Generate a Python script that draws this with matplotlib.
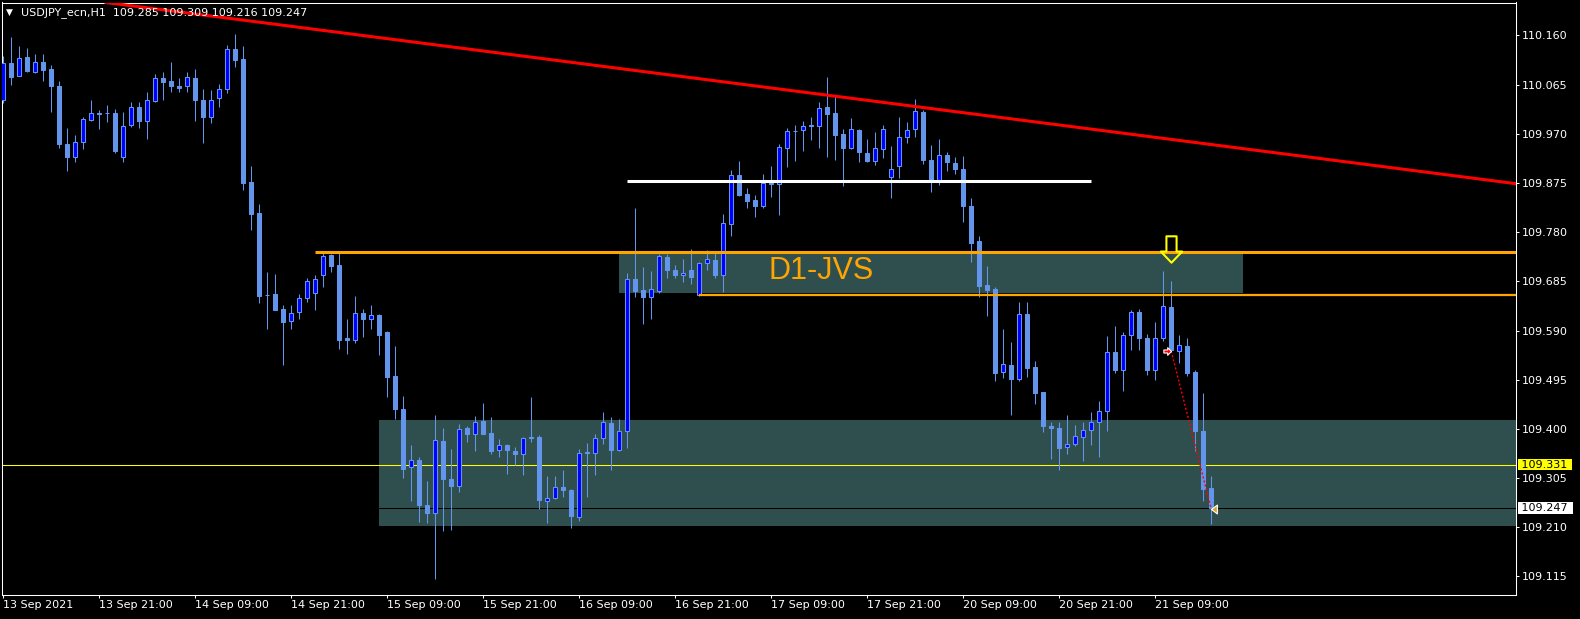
import numpy as np
import matplotlib
matplotlib.use("Agg")
import matplotlib.pyplot as plt
from matplotlib.path import Path
from matplotlib.patches import Rectangle
from matplotlib.transforms import blended_transform_factory

# ---------------- data (USDJPY_ecn, H1) ----------------
opens = [110.035, 110.107, 110.081, 110.118, 110.090, 110.109, 110.096, 110.062, 109.951, 109.926,
         109.954, 109.997, 110.010, 110.011, 110.011, 109.926, 109.988, 110.022, 109.994, 110.033,
         110.077, 110.072, 110.062, 110.062, 110.077, 110.036, 110.003, 110.039, 110.056, 110.134,
         110.115, 109.877, 109.817, 109.659, 109.661, 109.631, 109.608, 109.625, 109.652, 109.663,
         109.698, 109.735, 109.717, 109.576, 109.571, 109.624, 109.613, 109.620, 109.587, 109.502,
         109.438, 109.327, 109.340, 109.253, 109.237, 109.377, 109.303, 109.289, 109.401, 109.391,
         109.416, 109.392, 109.359, 109.369, 109.357, 109.351, 109.385, 109.385, 109.261, 109.266,
         109.287, 109.282, 109.229, 109.355, 109.353, 109.382, 109.411, 109.360, 109.395, 109.689,
         109.668, 109.654, 109.667, 109.732, 109.706, 109.697, 109.707, 109.658, 109.720, 109.727,
         109.698, 109.795, 109.890, 109.854, 109.842, 109.830, 109.875, 109.874, 109.943, 109.976,
         109.977, 109.987, 109.986, 110.021, 110.011, 109.970, 109.942, 109.977, 109.933, 109.918,
         109.940, 109.886, 109.907, 109.963, 109.979, 110.013, 109.920, 109.881, 109.929, 109.914,
         109.903, 109.831, 109.763, 109.678, 109.670, 109.510, 109.523, 109.496, 109.621, 109.519,
         109.471, 109.406, 109.401, 109.365, 109.371, 109.384, 109.397, 109.413, 109.434, 109.549,
         109.513, 109.582, 109.626, 109.576, 109.514, 109.575, 109.636, 109.551, 109.560, 109.510,
         109.395, 109.285]
highs = [110.121, 110.158, 110.140, 110.136, 110.125, 110.124, 110.103, 110.072, 109.981, 109.968,
         110.003, 110.035, 110.016, 110.026, 110.018, 110.012, 110.031, 110.031, 110.051, 110.086,
         110.090, 110.109, 110.077, 110.090, 110.096, 110.056, 110.054, 110.066, 110.141, 110.163,
         110.140, 109.907, 109.835, 109.704, 109.699, 109.640, 109.640, 109.660, 109.691, 109.697,
         109.739, 109.738, 109.739, 109.612, 109.657, 109.631, 109.640, 109.622, 109.589, 109.560,
         109.464, 109.368, 109.345, 109.300, 109.427, 109.401, 109.362, 109.410, 109.405, 109.425,
         109.450, 109.423, 109.380, 109.371, 109.365, 109.384, 109.462, 109.388, 109.309, 109.309,
         109.321, 109.283, 109.362, 109.373, 109.391, 109.433, 109.423, 109.419, 109.702, 109.826,
         109.713, 109.705, 109.737, 109.737, 109.716, 109.728, 109.748, 109.722, 109.746, 109.739,
         109.815, 109.900, 109.917, 109.865, 109.852, 109.892, 109.908, 109.951, 109.981, 109.988,
         109.994, 110.002, 110.031, 110.079, 110.046, 109.980, 110.001, 109.979, 109.960, 109.974,
         109.987, 109.946, 110.002, 109.992, 110.037, 110.017, 109.948, 109.960, 109.935, 109.926,
         109.927, 109.847, 109.773, 109.715, 109.674, 109.592, 109.567, 109.645, 109.645, 109.532,
         109.472, 109.414, 109.414, 109.427, 109.408, 109.414, 109.433, 109.454, 109.580, 109.599,
         109.587, 109.630, 109.631, 109.584, 109.606, 109.705, 109.685, 109.582, 109.576, 109.514,
         109.470, 109.309]
lows = [110.029, 110.065, 110.081, 110.090, 110.088, 110.072, 110.013, 109.943, 109.898, 109.915,
        109.940, 109.994, 109.980, 109.992, 109.933, 109.915, 109.983, 109.981, 109.961, 110.031,
        110.036, 110.050, 110.050, 110.051, 109.994, 109.953, 109.991, 110.021, 110.048, 110.099,
        109.861, 109.785, 109.643, 109.593, 109.629, 109.524, 109.592, 109.612, 109.646, 109.629,
        109.674, 109.703, 109.555, 109.544, 109.565, 109.577, 109.592, 109.543, 109.462, 109.419,
        109.305, 109.261, 109.221, 109.218, 109.109, 109.203, 109.205, 109.279, 109.375, 109.358,
        109.390, 109.351, 109.345, 109.312, 109.331, 109.310, 109.375, 109.246, 109.219, 109.264,
        109.269, 109.209, 109.222, 109.269, 109.310, 109.371, 109.321, 109.358, 109.364, 109.654,
        109.603, 109.612, 109.662, 109.692, 109.691, 109.684, 109.680, 109.656, 109.707, 109.691,
        109.665, 109.772, 109.850, 109.826, 109.810, 109.827, 109.848, 109.813, 109.905, 109.918,
        109.937, 109.959, 109.943, 109.926, 109.920, 109.869, 109.940, 109.916, 109.916, 109.909,
        109.923, 109.847, 109.884, 109.953, 109.964, 109.912, 109.857, 109.872, 109.898, 109.892,
        109.800, 109.722, 109.654, 109.619, 109.492, 109.499, 109.427, 109.492, 109.501, 109.448,
        109.394, 109.342, 109.320, 109.351, 109.366, 109.337, 109.368, 109.345, 109.395, 109.508,
        109.473, 109.552, 109.552, 109.504, 109.495, 109.569, 109.551, 109.528, 109.503, 109.358,
        109.261, 109.216]
closes = [110.107, 110.079, 110.116, 110.091, 110.108, 110.093, 110.062, 109.951, 109.926, 109.954,
          109.998, 110.010, 110.009, 110.010, 109.937, 109.986, 110.021, 109.994, 110.035, 110.077,
          110.071, 110.062, 110.059, 110.080, 110.036, 110.002, 110.036, 110.056, 110.134, 110.113,
          109.875, 109.816, 109.657, 109.658, 109.630, 109.606, 109.623, 109.652, 109.685, 109.689,
          109.734, 109.714, 109.571, 109.571, 109.624, 109.613, 109.620, 109.582, 109.501, 109.438,
          109.323, 109.340, 109.252, 109.237, 109.379, 109.303, 109.289, 109.400, 109.391, 109.413,
          109.391, 109.357, 109.369, 109.360, 109.351, 109.382, 109.382, 109.262, 109.266, 109.287,
          109.281, 109.232, 109.353, 109.354, 109.382, 109.413, 109.360, 109.395, 109.689, 109.667,
          109.654, 109.670, 109.734, 109.707, 109.697, 109.702, 109.694, 109.720, 109.728, 109.697,
          109.797, 109.890, 109.852, 109.841, 109.830, 109.875, 109.873, 109.944, 109.975, 109.975,
          109.986, 109.986, 110.019, 110.009, 109.968, 109.942, 109.979, 109.935, 109.918, 109.942,
          109.979, 109.903, 109.964, 109.977, 110.014, 109.920, 109.881, 109.929, 109.915, 109.902,
          109.830, 109.759, 109.677, 109.668, 109.508, 109.525, 109.496, 109.621, 109.517, 109.470,
          109.405, 109.401, 109.364, 109.371, 109.386, 109.397, 109.413, 109.434, 109.549, 109.514,
          109.581, 109.626, 109.575, 109.514, 109.576, 109.637, 109.552, 109.562, 109.508, 109.395,
          109.283, 109.247]

symbol = "USDJPY_ecn,H1"
time_labels = ["13 Sep 2021", "13 Sep 21:00", "14 Sep 09:00", "14 Sep 21:00", "15 Sep 09:00",
               "15 Sep 21:00", "16 Sep 09:00", "16 Sep 21:00", "17 Sep 09:00", "17 Sep 21:00",
               "20 Sep 09:00", "20 Sep 21:00", "21 Sep 09:00"]
label_bars = [0, 12, 24, 36, 48, 60, 72, 84, 96, 108, 120, 132, 144]
price_ticks = [110.160, 110.065, 109.970, 109.875, 109.780, 109.685, 109.590,
               109.495, 109.400, 109.305, 109.210, 109.115]

# chart objects (bar index, price)
trend_p1 = (30.84, 110.188)
trend_p2 = (175.84, 109.900)
white_level, white_from, white_to = 109.879, 78, 136
upper_level, upper_from = 109.741, 39
lower_level, lower_from = 109.659, 87
zone_hi = (77, 155, 109.662, 109.741)
zone_lo = (47, 200, 109.212, 109.417)
ref_level = 109.331
bid_level = closes[-1]
trade_open = (146, 109.550)
trade_close = (151, 109.245)
signal_arrow = (146, 109.747)
zone_text = ("D1-JVS", 95.7, 109.705)

# ---------------- figure ----------------
W, H = 1580, 619
fig = plt.figure(figsize=(W / 100, H / 100), dpi=100, facecolor="black")
L, R, T, B = 2, 1516, 2.5, 595
ax = fig.add_axes([L / W, 1 - B / H, (R - L) / W, (B - T) / H])
ax.set_facecolor("black")
ax.set_xlim((L - 3.3) / 8, (R - 3.3) / 8)
ax.set_ylim(110.160 - (B - 35.5) / 517.6, 110.160 + (35.5 - T) / 517.6)

# zones
ax.add_patch(Rectangle((zone_hi[0], zone_hi[2]), zone_hi[1] - zone_hi[0], zone_hi[3] - zone_hi[2],
                       facecolor="#2F4F4F", edgecolor="none", zorder=1))
ax.add_patch(Rectangle((zone_lo[0], zone_lo[2]), zone_lo[1] - zone_lo[0], zone_lo[3] - zone_lo[2],
                       facecolor="#2F4F4F", edgecolor="none", zorder=1))

ax.axhline(ref_level, color="#FFFF00", lw=0.75, zorder=2)
ax.axhline(bid_level, color="black", lw=0.75, zorder=2)

# candles
o = np.array(opens); h = np.array(highs); l = np.array(lows); c = np.array(closes)
idx = np.arange(len(o))
bull = c > o
ax.vlines(idx, l, h, color="#6495ED", lw=0.75, zorder=3)
bottoms = np.minimum(o, c)
heights = np.maximum(np.abs(c - o), 0.0006)
ax.bar(idx, heights, width=0.5, bottom=bottoms,
       color=np.where(bull, "#0000FF", "#6495ED"), edgecolor="#6495ED",
       linewidth=0.75, zorder=4)

# lines
xmax = ax.get_xlim()[1]
ax.axline(trend_p1, trend_p2, color="#FF0000", lw=2.2, zorder=6)
ax.hlines(white_level, white_from, white_to, color="white", lw=2.2, zorder=6)
ax.hlines(upper_level, upper_from, xmax + 1, color="#FFA500", lw=2.2, zorder=6)
ax.hlines(lower_level, lower_from, xmax + 1, color="#FFA500", lw=1.6, zorder=6)

ax.text(zone_text[1], zone_text[2], zone_text[0], color="#FFA500", fontsize=22,
        family="Liberation Sans", va="center", ha="left", zorder=5)

# down arrow signal
arrow_path = Path([(-5, 13), (5, 13), (5, -2), (10.5, -2), (0, -13), (-10.5, -2), (-5, -2), (-5, 13)],
                  [Path.MOVETO] + [Path.LINETO] * 6 + [Path.CLOSEPOLY])
ax.plot([signal_arrow[0]], [signal_arrow[1]], marker=arrow_path, ms=19, mfc="none",
        mec="#FFFF00", mew=1.5, zorder=8)

# trade
ax.plot([trade_open[0], trade_close[0]], [trade_open[1], trade_close[1]], color="#FF0000",
        lw=1, ls=(0, (1.5, 1.5)), zorder=7)
open_path = Path([(0, 0), (-5, 5), (-5, 2), (-10, 2), (-10, -2), (-5, -2), (-5, -5), (0, 0)],
                 [Path.MOVETO] + [Path.LINETO] * 6 + [Path.CLOSEPOLY])
ax.plot([trade_open[0]], [trade_open[1]], marker=open_path, ms=11, mfc="#FF0000", mec="white",
        mew=0.8, zorder=8)
close_path = Path([(0, 0), (6, 4.5), (6, -4.5), (0, 0)],
                  [Path.MOVETO, Path.LINETO, Path.LINETO, Path.CLOSEPOLY])
ax.plot([trade_close[0]], [trade_close[1]], marker=close_path, ms=8.5, mfc="#DAA520", mec="white",
        mew=0.8, zorder=8)

# axes styling
for s in ax.spines.values():
    s.set_color("white")
    s.set_linewidth(0.75)
ax.yaxis.tick_right()
ax.set_yticks(price_ticks)
ax.set_yticklabels([f"{p:.3f}" for p in price_ticks])
ax.set_xticks(label_bars)
ax.set_xticklabels(time_labels, ha="left")
ax.tick_params(axis="y", colors="white", length=2.2, width=0.75, pad=2.2, labelsize=8)
ax.tick_params(axis="x", colors="white", length=2.2, width=0.75, pad=1.5, labelsize=8)

# price labels on scale
tr = blended_transform_factory(ax.transAxes, ax.transData)
xl = 1 + (1518.5 - R) / (R - L)
ax.text(xl, ref_level, f" {ref_level:.3f} ", transform=tr, color="black", fontsize=8,
        va="center", ha="left", clip_on=False, zorder=10,
        bbox=dict(boxstyle="square,pad=0.08", fc="#FFFF00", ec="none"))
ax.text(xl, bid_level, f" {bid_level:.3f} ", transform=tr, color="black", fontsize=8,
        va="center", ha="left", clip_on=False, zorder=10,
        bbox=dict(boxstyle="square,pad=0.08", fc="white", ec="none"))

# header
fig.text(6 / W, 1 - 12.3 / H, "\u25BC", color="white", fontsize=6.5, va="center", ha="left")
fig.text(21 / W, 1 - 12.3 / H,
         f"{symbol}  {opens[-1]:.3f} {highs[-1]:.3f} {lows[-1]:.3f} {closes[-1]:.3f}",
         color="white", fontsize=8, va="center", ha="left", zorder=20)

fig.savefig("out.png", dpi=100, facecolor="black")
